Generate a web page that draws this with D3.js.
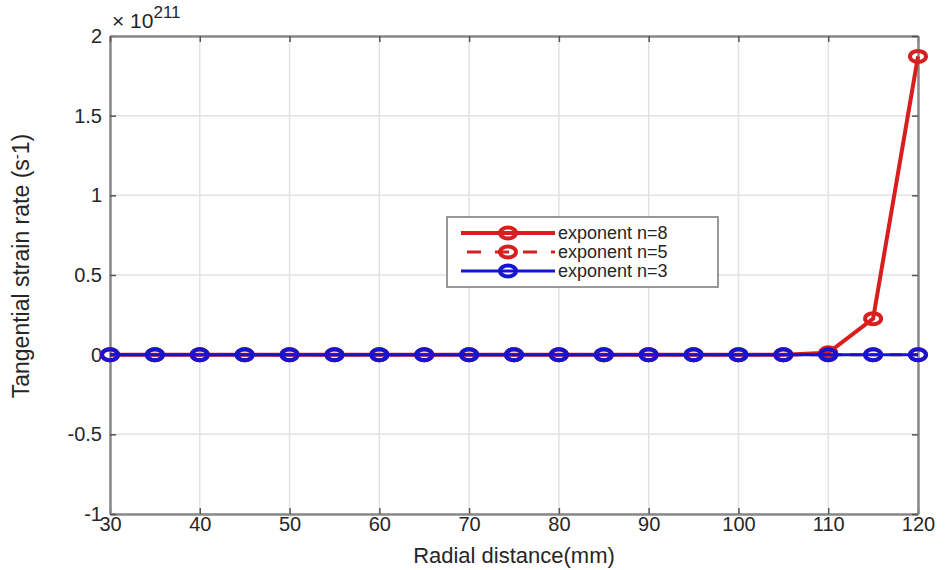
<!DOCTYPE html>
<html>
<head>
<meta charset="utf-8"/>
<script src="https://d3js.org/d3.v7.min.js"></script>
<style>
  body { margin: 0; background: #fff; }
  text { font-family: "Liberation Sans", Arial, sans-serif; fill: #262626; }
</style>
</head>
<body>
<div id="chart"></div>
<script>
// radial distance (mm) and strain rate values (x 10^211)
var radial = [30, 35, 40, 45, 50, 55, 60, 65, 70, 75, 80, 85, 90, 95, 100, 105, 110, 115, 120];
var n8 = [0, 0, 0, 0, 0, 0, 0, 0, 0, 0, 0, 0, 0, 0, 0, 0, 0.012, 0.226, 1.872];
var n5 = [0, 0, 0, 0, 0, 0, 0, 0, 0, 0, 0, 0, 0, 0, 0, 0, 0, 0, 0];
var n3 = [0, 0, 0, 0, 0, 0, 0, 0, 0, 0, 0, 0, 0, 0, 0, 0, 0, 0, 0];
var xTicks = [30, 40, 50, 60, 70, 80, 90, 100, 110, 120];
var yTicks = [-1, -0.5, 0, 0.5, 1, 1.5, 2];
var seriesNames = ["exponent n=8", "exponent n=5", "exponent n=3"];

var W = 946, H = 570;
var margin = {top: 36, right: 28, bottom: 56, left: 110};
var width = W - margin.left - margin.right,
    height = H - margin.top - margin.bottom;

var svg = d3.select("#chart").append("svg")
    .attr("width", W).attr("height", H);
var g = svg.append("g")
    .attr("transform", "translate(" + margin.left + "," + margin.top + ")");

var x = d3.scaleLinear().domain([30, 120]).range([0, width]);
var y = d3.scaleLinear().domain([-1, 2]).range([height, 0]);

// grid
g.append("g").selectAll("line").data(xTicks).join("line")
    .attr("x1", d => x(d)).attr("x2", d => x(d))
    .attr("y1", 0).attr("y2", height)
    .attr("stroke", "#e2e2e2").attr("stroke-width", 1.5);
g.append("g").selectAll("line").data(yTicks).join("line")
    .attr("x1", 0).attr("x2", width)
    .attr("y1", d => y(d)).attr("y2", d => y(d))
    .attr("stroke", "#e2e2e2").attr("stroke-width", 1.5);

// axes (ticks inward)
var xAxis = g.append("g").attr("transform", "translate(0," + height + ")")
    .call(d3.axisBottom(x).tickValues(xTicks).tickSizeInner(-6).tickSizeOuter(0).tickPadding(3));
var yAxis = g.append("g")
    .call(d3.axisLeft(y).tickValues(yTicks).tickSizeInner(-6).tickSizeOuter(0).tickPadding(8)
      .tickFormat(d => String(d)));
var topAxis = g.append("g")
    .call(d3.axisTop(x).tickValues(xTicks).tickSizeInner(-6).tickSizeOuter(0).tickFormat(""));
var rightAxis = g.append("g").attr("transform", "translate(" + width + ",0)")
    .call(d3.axisRight(y).tickValues(yTicks).tickSizeInner(-6).tickSizeOuter(0).tickFormat(""));
[xAxis, yAxis, topAxis, rightAxis].forEach(function(a) {
  a.selectAll(".domain").attr("stroke", "#888").attr("stroke-width", 2.5);
  a.selectAll(".tick line").attr("stroke", "#555").attr("stroke-width", 1.5);
  a.selectAll("text").style("font-size", "20px").attr("fill", "#262626")
    .style("font-family", "Liberation Sans, Arial, sans-serif");
});

// exponent label
var ex = g.append("text").attr("x", 2).attr("y", -8).style("font-size", "21px");
ex.append("tspan").text("\u00d7 10");
ex.append("tspan").attr("dy", -10).style("font-size", "17px").text("211");

// axis labels
svg.append("text")
    .attr("x", margin.left + width / 2).attr("y", H - 7)
    .attr("text-anchor", "middle").style("font-size", "22px")
    .text("Radial distance(mm)");
var yl = svg.append("text")
    .attr("transform", "translate(29," + (margin.top + height / 2 - 9) + ") rotate(-90)")
    .attr("text-anchor", "middle").style("font-size", "23px");
yl.append("tspan").text("Tangential strain rate (s");
yl.append("tspan").attr("dy", -7).style("font-size", "15px").text("-");
yl.append("tspan").attr("dy", 7).text("1)");

var line = d3.line().x((d, i) => x(radial[i])).y(d => y(d));

var series = [
  {vals: n8, color: "#d81e1e", dash: null, w: 4},
  {vals: n5, color: "#d81e1e", dash: "12,8", w: 3},
  {vals: n3, color: "#1414d2", dash: null, w: 3}
];

series.forEach(function(s) {
  g.append("path").datum(s.vals)
    .attr("fill", "none").attr("stroke", s.color)
    .attr("stroke-width", s.w)
    .attr("stroke-dasharray", s.dash)
    .attr("d", line);
  g.append("g").selectAll("ellipse").data(s.vals).join("ellipse")
    .attr("cx", (d, i) => x(radial[i])).attr("cy", d => y(d))
    .attr("rx", 8).attr("ry", 5.5)
    .attr("fill", "none").attr("stroke", s.color).attr("stroke-width", 4);
});

// legend
var lg = g.append("g").attr("transform", "translate(" + (447 - margin.left) + "," + (217 - margin.top) + ")");
lg.append("rect").attr("width", 271).attr("height", 70)
  .attr("fill", "#fff").attr("stroke", "#777").attr("stroke-width", 1.5);
series.forEach(function(s, i) {
  var yy = 16 + i * 19;
  lg.append("line").attr("x1", 14).attr("x2", 108).attr("y1", yy).attr("y2", yy)
    .attr("stroke", s.color).attr("stroke-width", s.w)
    .attr("stroke-dasharray", s.dash ? "14,14" : null)
    .attr("stroke-dashoffset", s.dash ? -6 : null);
  lg.append("ellipse").attr("cx", 61).attr("cy", yy).attr("rx", 8).attr("ry", 5.5)
    .attr("fill", "none").attr("stroke", s.color).attr("stroke-width", 4);
  lg.append("text").attr("x", 111).attr("y", yy + 6).style("font-size", "18px")
    .text(seriesNames[i]);
});
</script>
</body>
</html>
